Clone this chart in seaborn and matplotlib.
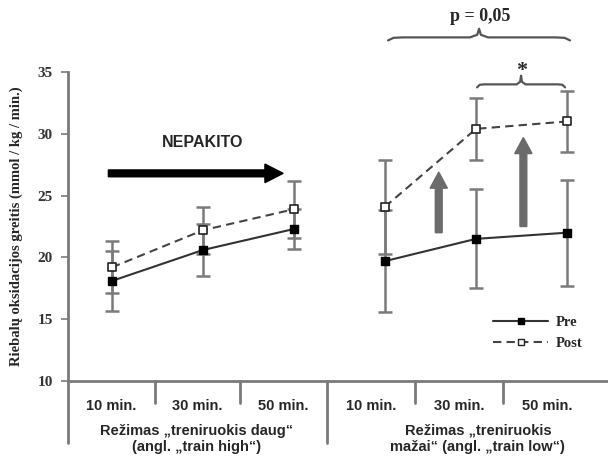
import numpy as np
import pandas as pd
import matplotlib
matplotlib.use("Agg")
import matplotlib.pyplot as plt
import seaborn as sns
from matplotlib.lines import Line2D
from matplotlib.patches import FancyArrow

# ---- data ----
time_labels = ["10 min.", "30 min.", "50 min.", "10 min.", "30 min.", "50 min."]
group_labels = ["Režimas „treniruokis daug“\n(angl. „train high“)",
                "Režimas „treniruokis\nmažai“ (angl. „train low“)"]
groups = ["high", "high", "high", "low", "low", "low"]
pre_mean = [18.1, 20.6, 22.3, 19.7, 21.5, 22.0]
pre_err = [2.4, 2.1, 1.6, 4.1, 4.0, 4.3]
post_mean = [19.2, 22.2, 23.9, 24.1, 30.4, 31.0]
post_err = [2.1, 1.9, 2.3, 3.8, 2.5, 2.5]
series_names = ["Pre", "Post"]
yticks = [10, 15, 20, 25, 30, 35]
ylabel = "Riebalų oksidacijos greitis (mmol / kg / min.)"

xpos = np.arange(len(time_labels))
df = pd.DataFrame({
    "x": np.concatenate([xpos, xpos]),
    "y": pre_mean + post_mean,
    "err": pre_err + post_err,
    "series": [series_names[0]] * 6 + [series_names[1]] * 6,
    "group": groups + groups,
})

sns.set_style("white")
SERIF = ["Liberation Serif", "DejaVu Serif"]
SANS = ["Liberation Sans", "DejaVu Sans"]
plt.rcParams["font.family"] = SANS

fig = plt.figure(figsize=(6.08, 4.59), dpi=100)
ax = fig.add_axes([68 / 608, 1 - 381 / 459, 540 / 608, (381 - 72) / 459])

GRAY = "#7a7a7a"
# error bars
for name in series_names:
    sub = df[df.series == name]
    ax.errorbar(sub.x, sub.y, yerr=sub.err, fmt="none", ecolor=GRAY,
                elinewidth=1.8, capsize=5, capthick=1.8, zorder=2)

sns.lineplot(data=df, x="x", y="y", hue="series", style="series",
             units="group", estimator=None, ax=ax,
             palette={"Pre": "#333333", "Post": "#444444"},
             dashes={"Pre": "", "Post": (4, 2.5)},
             markers=False, linewidth=1.5, legend=False, zorder=3)
pre_pts = df[df.series == "Pre"]
post_pts = df[df.series == "Post"]
ax.scatter(pre_pts.x, pre_pts.y, marker="s", s=26, color="black", zorder=4)
ax.scatter(post_pts.x, post_pts.y, marker="s", s=26, facecolor="white",
           edgecolor="#222222", linewidth=1.2, zorder=4)

ax.set_xlim(-0.484, 5.45)
ax.set_ylim(10, 35)
ax.set_yticks(yticks)
ax.set_yticklabels([str(t) for t in yticks], fontfamily=SERIF,
                   fontweight="bold", fontsize=11, color="#333333")
ax.set_xticks([])
ax.set_xlabel("")
ax.set_ylabel(ylabel, fontfamily=SERIF, fontweight="bold", fontsize=10.5,
              labelpad=10)
for s in ["top", "right"]:
    ax.spines[s].set_visible(False)
for s in ["left", "bottom"]:
    ax.spines[s].set_color(GRAY)
    ax.spines[s].set_linewidth(2)
ax.tick_params(axis="y", left=True, length=5, width=1.2, color=GRAY, pad=6)

# category separators and labels below axis
trans = ax.get_xaxis_transform()
bounds = [-0.484, 0.47, 1.41, 2.36, 3.33, 4.30, 5.27]
for i, b in enumerate(bounds[1:-1]):
    long = (i == 2)
    ax.plot([b, b], [0, -0.07 if not long else -0.20], transform=trans,
            color=GRAY, lw=2, clip_on=False)
ax.plot([bounds[0], bounds[0]], [0, -0.20], transform=trans, color=GRAY,
        lw=2, clip_on=False)
for i, lab in enumerate(time_labels):
    c = (bounds[i] + bounds[i + 1]) / 2
    ax.text(c, -0.08, lab, transform=trans, ha="center", va="center",
            fontsize=10.5, fontweight="bold")
ax.text(0.93, -0.187, group_labels[0], transform=trans, ha="center",
        va="center", fontsize=10.5, linespacing=1.15, fontweight="bold")
ax.text(4.02, -0.187, group_labels[1], transform=trans, ha="center",
        va="center", fontsize=10.5, linespacing=1.15, fontweight="bold")

# NEPAKITO arrow
ax.text(0.99, 29.3, "NEPAKITO", ha="center", va="center", fontsize=11.5,
        fontweight="bold")
ax.add_patch(FancyArrow(-0.04, 26.8, 1.72, 0, width=0.55, head_width=1.5,
                        head_length=0.2, color="black", zorder=5))
# gray arrows
ax.add_patch(FancyArrow(3.59, 22.0, 0, 3.6, width=0.075, head_width=0.19,
                        head_length=1.3, color="#6b6b6b", zorder=5))
ax.add_patch(FancyArrow(4.52, 22.5, 0, 5.9, width=0.075, head_width=0.19,
                        head_length=1.3, color="#6b6b6b", zorder=5))

# braces
def brace(x0, x1, y, h, lw=1.6):
    xm = (x0 + x1) / 2
    q = (x1 - x0)
    xs = [x0, x0 + 0.03 * q, x0 + 0.08 * q, xm - 0.05 * q, xm - 0.01 * q, xm,
          xm + 0.01 * q, xm + 0.05 * q, x1 - 0.08 * q, x1 - 0.03 * q, x1]
    ys = [y - 0.35 * h, y - 0.05 * h, y, y, y + 0.3 * h, y + h,
          y + 0.3 * h, y, y, y - 0.05 * h, y - 0.35 * h]
    ax.plot(xs, ys, color="#555555", lw=lw, clip_on=False,
            solid_capstyle="round", solid_joinstyle="round")

brace((388 - 112) / 91, (570 - 112) / 91, 37.8, 0.7)
ax.text((480 - 112) / 91, 39.5, "p = 0,05", ha="center", va="center",
        fontfamily=SERIF, fontweight="bold", fontsize=13, clip_on=False)
brace((477 - 112) / 91, (565 - 112) / 91, 34.0, 0.7)
ax.text((522 - 112) / 91, 35.1, "*", ha="center", va="center",
        fontfamily=SERIF, fontweight="bold", fontsize=16, clip_on=False)

# legend
handles = [Line2D([], [], color="#333333", lw=1.5, marker="s", markersize=5,
                  markerfacecolor="black", markeredgecolor="black"),
           Line2D([], [], color="#444444", lw=1.5, ls=(0, (4, 2.5)), marker="s",
                  markersize=5, markerfacecolor="white",
                  markeredgecolor="#222222")]
leg = ax.legend(handles, series_names, loc="center left",
                bbox_to_anchor=(493 / 608, 1 - 333 / 459),
                bbox_transform=fig.transFigure, frameon=False, borderpad=0,
                borderaxespad=0,
                handlelength=3.8, handletextpad=0.5, labelspacing=0.5,
                prop={"family": SERIF, "weight": "bold", "size": 10.5})

fig.savefig("out.png", dpi=100)
